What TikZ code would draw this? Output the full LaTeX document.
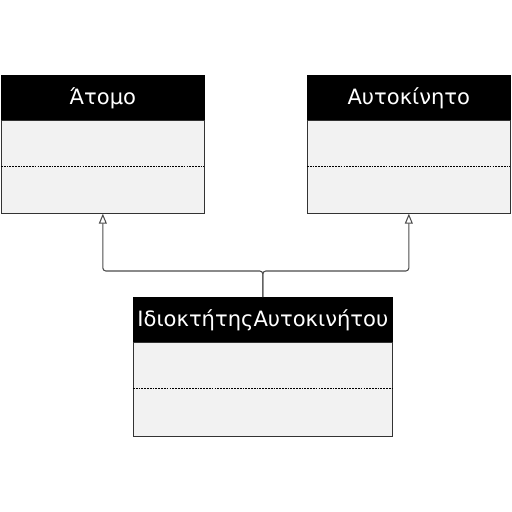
\documentclass[tikz,border=0pt]{standalone}
\usepackage{fontspec}
\setmainfont{DejaVu Sans}
\usetikzlibrary{arrows.meta,positioning}

\begin{document}
\begin{tikzpicture}[
  x=0.02cm, y=-0.02cm,
  hdr/.style={draw=black, fill=black, text=white, minimum height=0.9cm, anchor=north west, inner sep=0pt, font=\fontsize{12}{14}\selectfont},
  bdy/.style={draw=black!80, fill=gray!10, minimum height=1.86cm, anchor=north west, inner sep=0pt},
  sep/.style={black, line width=0.4pt, dash pattern=on 1pt off 0.6pt},
  inh/.style={draw=black!70, line width=0.6pt, rounded corners=0.06cm, -{Triangle[open, length=0.2cm, width=0.16cm]}}
]
\useasboundingbox (0,0) rectangle (512,512);

%--- Atomo (top-left) ---
\node[hdr, minimum width=4.06cm] (atomoH) at (1,75) {Άτομο};
\node[bdy, minimum width=4.06cm] (atomo) at (1,120) {};
\draw[sep] (1,166) -- (204,166);

%--- Aftokinito (top-right) ---
\node[hdr, minimum width=4.06cm] (autoH) at (307,75) {Αυτοκίνητο};
\node[bdy, minimum width=4.06cm] (auto) at (307,120) {};
\draw[sep] (307,166) -- (510,166);

%--- Idioktitis (bottom) ---
\node[hdr, minimum width=5.18cm] (ownerH) at (133,297) {ΙδιοκτήτηςΑυτοκινήτου};
\node[bdy, minimum width=5.18cm, minimum height=1.88cm] (owner) at (133,342) {};
\draw[sep] (133,388) -- (392,388);

% generalization
\draw[inh] (ownerH.north) -- ++(0,-26) -| (atomo.south);
\draw[inh] (ownerH.north) -- ++(0,-26) -| (auto.south);
\end{tikzpicture}
\end{document}
